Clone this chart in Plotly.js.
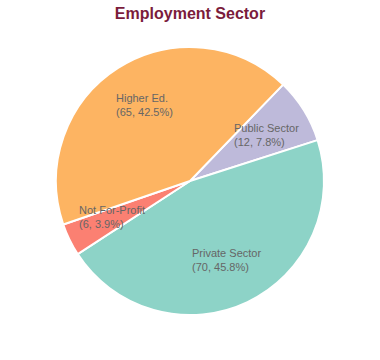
<!DOCTYPE html>
<html>
<head>
<meta charset="utf-8">
<script src="https://cdn.plot.ly/plotly-3.0.1.min.js"></script>
<style>html,body{margin:0;padding:0;background:#fff;}#chart{width:380px;height:360px;}</style>
</head>
<body>
<div id="chart"></div>
<script>
const labels = ["Public Sector", "Private Sector", "Not For-Profit", "Higher Ed."];
const values = [12, 70, 6, 65];
const colors = ["#bebada", "#8dd3c7", "#fb8072", "#fdb462"];
// label anchor positions (paper coords)
const labelX = [233/380, 191/380, 78/380, 115/380];
const labelY = [1 - 135/360, 1 - 260/360, 1 - 217/360, 1 - 105/360];

const total = values.reduce((a, b) => a + b, 0);
const annotations = labels.map((l, i) => ({
  text: l + "<br>(" + values[i] + ", " + (100 * values[i] / total).toFixed(1) + "%)",
  x: labelX[i], y: labelY[i], xref: "paper", yref: "paper",
  xanchor: "left", yanchor: "middle", align: "left",
  showarrow: false, borderpad: 0,
  font: {family: "Liberation Sans, Arial, sans-serif", size: 11, color: "#666666"}
}));

const trace = {
  type: "pie",
  labels: labels,
  values: values,
  sort: false,
  direction: "clockwise",
  rotation: 44,
  marker: {colors: colors, line: {color: "#ffffff", width: 2}},
  textinfo: "none",
  hoverinfo: "none",
  showlegend: false,
  domain: {x: [56/380, 324/380], y: [45/360, 313/360]}
};

const layout = {
  width: 380, height: 360,
  margin: {l: 0, r: 0, t: 0, b: 0},
  paper_bgcolor: "#ffffff",
  title: {
    text: "<b>Employment Sector</b>",
    x: 0.5, xanchor: "center", y: 1 - 13/360, yanchor: "middle",
    font: {family: "Liberation Sans, Arial, sans-serif", size: 16, color: "#7b1c3c"}
  },
  annotations: annotations,
  showlegend: false
};

Plotly.newPlot("chart", [trace], layout, {staticPlot: true, displayModeBar: false});
</script>
</body>
</html>
